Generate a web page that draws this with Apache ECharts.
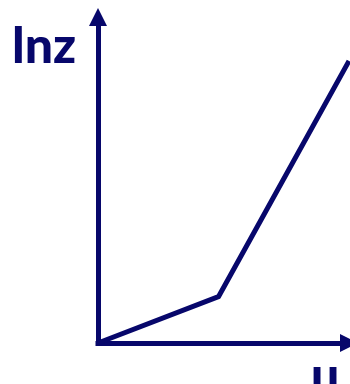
<!DOCTYPE html>
<html>
<head>
<meta charset="utf-8">
<script src="https://cdn.jsdelivr.net/npm/echarts@6/dist/echarts.min.js"></script>
<style>
  html, body { margin: 0; padding: 0; background: #fff; }
  #chart { width: 350px; height: 384px; }
</style>
</head>
<body>
<div id="chart"></div>
<script>
// Piecewise-linear curve of ln z against u
const uValues = [0, 4.8, 10];
const lnzValues = [0, 1.42, 8.65];
const yLabel = 'lnz';
const xLabel = 'u';

const ink = '#07076b';

const chart = echarts.init(document.getElementById('chart'), null, { renderer: 'canvas' });

const axisCommon = {
  type: 'value',
  min: 0,
  max: 10,
  axisLine: {
    show: true,
    symbol: ['none', 'triangle'],
    symbolSize: [18, 18],
    lineStyle: { color: ink, width: 5, cap: 'square' }
  },
  axisTick: { show: false },
  axisLabel: { show: false },
  splitLine: { show: false }
};

chart.setOption({
  animation: false,
  grid: { left: 98, right: 1, top: 17, bottom: 41 },
  xAxis: Object.assign({}, axisCommon),
  yAxis: Object.assign({}, axisCommon),
  graphic: [
    {
      type: 'text',
      left: 12,
      top: 22,
      style: { text: yLabel, font: '900 50px Lato', fill: ink }
    },
    {
      type: 'text',
      left: 311,
      top: 352,
      style: { text: xLabel, font: '900 50px Lato', fill: ink }
    }
  ],
  series: [{
    type: 'line',
    data: uValues.map((u, i) => [u, lnzValues[i]]),
    symbol: 'none',
    clip: false,
    lineStyle: { color: ink, width: 5, join: 'round' }
  }]
});
</script>
</body>
</html>
